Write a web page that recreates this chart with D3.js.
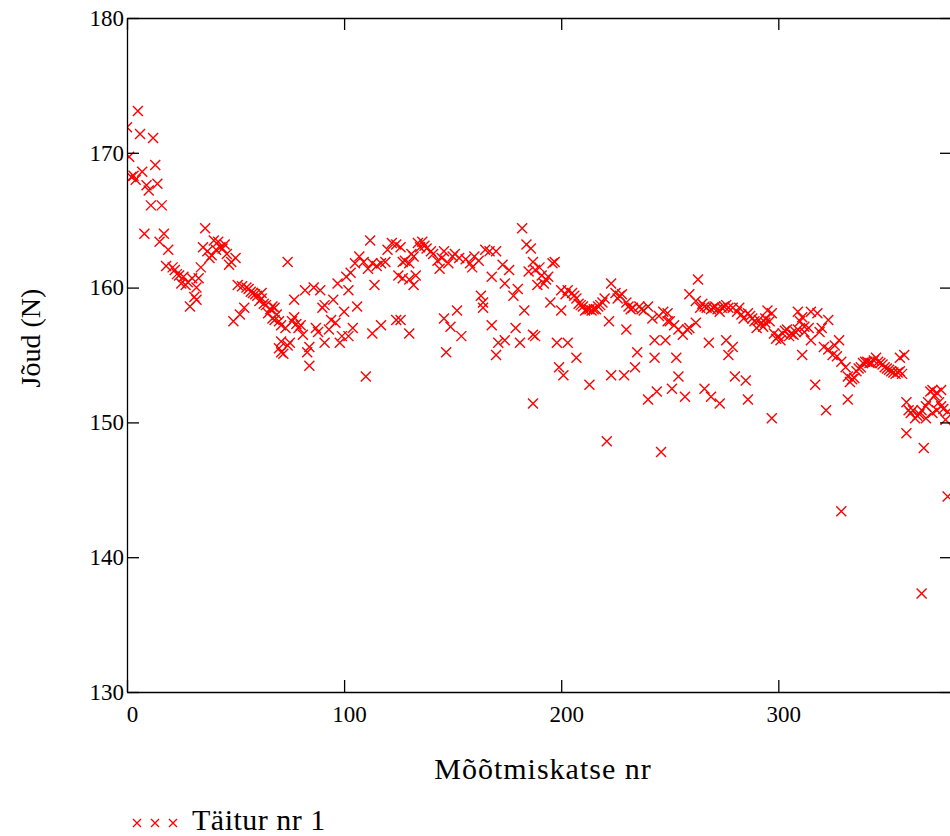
<!DOCTYPE html>
<html>
<head>
<meta charset="utf-8">
<script src="https://cdn.jsdelivr.net/npm/d3@7"></script>
<style>
  html, body { margin: 0; padding: 0; background: #fff; overflow: hidden; }
  svg { display: block; font-family: "Liberation Serif", "Times New Roman", serif; }
  .axis path, .axis line { stroke: #000; stroke-width: 1.3; }
  .axis text { font-size: 23px; fill: #000; font-family: "Liberation Serif", "Times New Roman", serif; }
</style>
</head>
<body>
<svg id="chart" width="950" height="836"></svg>
<script>
var nrA = [0,1,2,3,4,5,6,7,8,9,10,11,12,13,14,15,16,17,18,19,
  21,22,23,24,25,26,27,28,29,30,31,32,32,33,34,35,36,37,38,39,
  40,41,42,43,44,45,46,47,48,49,50,51,52,53,54,55,56,57,58,59,60,61,62];
var forceA = [171.9,169.7,168.2,168.3,168.0,173.1,171.4,168.6,164.0,167.6,167.2,166.1,171.1,169.1,167.7,163.4,166.1,164.0,161.6,162.8,
  161.5,161.3,161.0,160.9,160.3,160.8,160.2,160.4,158.6,160.7,159.3,160.0,159.1,160.7,161.5,163.0,164.4,162.7,162.2,162.4,
  163.5,162.8,163.4,163.0,162.9,163.2,162.5,161.7,161.9,157.5,162.2,160.2,158.0,160.1,158.5,160.0,159.9,159.7,159.6,159.5,159.4,159.0,159.2];

var nrB = [62,63,64,65,66,67,67,68,68,69,
  70,70,71,71,71,72,73,74,74,75,
  76,77,77,78,79,80,81,82,83,84,
  84,86,87,88,89,90,91,91,93,94,
  95,96,97,98,99,100,101,102,102,103,
  104,105,106,107,109,110,111,112,113,113,
  114,115,117,117,119,120,122,124,124,125];
var forceB = [159.6,158.8,158.7,158.1,158.4,158.6,157.7,158.5,157.6,158.0,
  157.5,155.5,157.2,156.0,155.2,155.1,157.0,161.9,155.7,155.9,
  157.5,157.8,159.1,157.3,157.0,157.2,156.5,159.8,155.2,155.6,
  154.2,160.0,157.0,156.7,159.8,158.5,158.7,155.9,156.9,157.6,
  159.1,157.4,160.3,155.9,156.4,158.2,160.8,159.8,156.4,161.1,
  157.0,161.8,158.6,162.3,161.9,153.4,161.4,163.5,161.8,156.6,
  160.2,161.6,161.8,157.2,161.9,162.8,163.3,163.2,157.6,160.9];

var nrC = [126,127,127,126,128,130,130,130,131,132,
  132,133,134,135,136,137,138,140,141,143,
  144,145,146,146,147,148,149,150,151,152,
  153,154,156,158,159,160,162,163,164,164,
  165,167,168,168,170,170,171,173,174,174,
  176,178,179,180,181,182,183,184,185,187];
var forceC = [163.0,161.9,160.7,157.6,162.0,161.8,160.6,156.6,162.5,162.3,
  160.2,160.9,163.3,163.0,163.4,163.1,162.9,162.7,162.5,162.0,
  161.4,162.2,162.7,157.7,155.2,161.8,157.1,162.3,162.5,158.3,
  162.2,156.4,162.1,161.8,161.5,162.3,162.0,159.4,158.9,158.5,
  162.8,162.7,160.8,157.2,162.7,155.0,155.9,161.7,160.3,156.1,
  161.3,159.4,157.0,159.9,155.9,164.4,158.3,163.2,161.2,156.5];

var nrD = [186,187,187,188,188,189,190,191,192,193,
  194,195,196,197,198,199,200,200,201,202,
  203,203,205,206,207,207,208,209,210,211,
  212,213,213,214,215,216,217,218,219,220,
  221,222,223,223,225,226,227,228,229,230,
  230,231,232,233,234,235,236,237,238,240,
  240,242,243,243,244,245,246,247,248,249];
var forceD = [162.9,161.9,151.4,161.3,156.4,160.2,161.5,160.9,160.3,160.6,
  160.8,158.9,161.8,161.9,155.9,154.1,158.3,159.8,153.5,159.5,
  159.8,155.9,159.6,159.4,159.2,154.8,158.8,158.7,158.6,158.3,
  158.4,158.4,152.8,158.3,158.4,158.4,158.6,158.7,158.9,159.2,
  148.6,157.5,160.3,153.5,159.6,159.2,159.4,159.5,153.5,158.9,
  156.9,158.6,158.4,158.5,154.1,155.2,158.6,158.4,158.3,158.6,
  151.7,157.7,156.1,154.8,152.3,157.9,147.8,158.2,156.1,157.5];

var nrE = [249,250,251,252,253,254,254,256,257,258,
  259,259,262,262,263,264,265,266,266,267,
  268,269,269,270,271,272,273,273,274,275,
  276,276,277,277,279,279,280,281,282,283,
  284,285,286,286,287,288,289,290,291,292,
  293,294,294,295,296,297,297,298,299,300,
  301,302,303,304,305,306,307,308,309,309,
  310,311,311,312];
var forceE = [158.1,157.5,152.5,157.2,154.8,156.9,153.4,156.5,151.9,156.9,
  157.0,159.5,157.4,159.0,160.6,158.5,158.8,158.6,152.5,158.5,
  155.9,158.4,151.9,158.5,158.6,158.4,158.2,151.4,158.5,158.6,
  158.7,156.1,158.5,155.0,158.5,155.6,153.4,158.2,158.5,158.0,
  157.7,153.1,158.1,151.7,157.9,157.7,157.5,157.0,157.6,157.3,
  157.1,157.7,157.4,158.3,157.5,158.1,150.3,156.6,156.2,156.4,
  156.1,156.6,156.8,156.9,156.4,156.6,156.5,156.7,156.9,158.2,
  157.5,157.8,155.0,157.1];

var nrF = [312,314,315,315,317,318,319,320,321,322,
  323,323,325,326,327,328,329,329,331,332,
  332,333,334,335,336,337,338,339,340,341,
  342,343,344,345,346,347,348,349,350,351,
  352,353,354,355,356,356,357,358,359,359,
  360,361,362,363,364,365,366,366,367,368,
  368,369,370,371,371,372,373,373,374,375,
  375,376,377,378,378];
var forceF = [156.7,157.0,158.2,156.1,152.8,158.1,156.7,157.0,155.6,150.9,
  157.6,155.4,155.0,155.7,154.9,156.1,154.5,143.4,154.1,153.4,
  151.7,153.0,153.2,153.3,153.8,154.0,154.1,154.4,154.5,154.5,
  154.4,154.4,154.6,154.8,154.5,154.4,154.3,154.1,154.0,153.9,
  153.8,153.7,153.6,153.7,153.8,154.8,153.6,155.0,151.5,149.2,
  150.9,150.7,150.9,150.3,150.5,150.6,150.9,137.3,148.1,151.2,
  150.3,151.5,152.3,152.4,150.7,152.0,152.2,150.9,151.5,152.4,
  151.2,151.0,150.2,150.8,144.5];

var xTicks = [0, 100, 200, 300];
var yTicks = [130, 140, 150, 160, 170, 180];
var seriesName = "Täitur nr 1";

var nr = nrA.concat(nrB, nrC, nrD, nrE, nrF);
var force = forceA.concat(forceB, forceC, forceD, forceE, forceF);
var data = nr.map(function(n, i) { return {nr: n, force: force[i]}; });

var svg = d3.select("#chart");
var margin = {top: 18, right: -2, bottom: 144, left: 127};
var width = +svg.attr("width") - margin.left - margin.right;
var height = +svg.attr("height") - margin.top - margin.bottom;

var x = d3.scaleLinear().domain([0, 380]).range([0, width]);
var y = d3.scaleLinear().domain([130, 180]).range([height, 0]);

var g = svg.append("g").attr("transform", "translate(" + margin.left + "," + margin.top + ")");

g.append("clipPath").attr("id", "plot-clip")
  .append("rect").attr("width", width).attr("height", height);

var cross = "M-5,-5L5,5M-5,5L5,-5";

g.append("g")
    .attr("clip-path", "url(#plot-clip)")
  .selectAll("path")
  .data(data)
  .enter().append("path")
    .attr("transform", function(d) { return "translate(" + x(d.nr) + "," + y(d.force) + ")"; })
    .attr("d", cross)
    .attr("fill", "none")
    .attr("stroke", "#ff0000")
    .attr("stroke-width", 1.4);

// box: ticks point inward on all four sides
g.append("g")
    .attr("class", "axis")
    .attr("transform", "translate(0," + height + ")")
    .call(d3.axisBottom(x).tickValues(xTicks).tickSize(-12).tickSizeOuter(0).tickPadding(14))
  .selectAll("text").attr("dx", 5);

g.append("g")
    .attr("class", "axis")
    .call(d3.axisTop(x).tickValues(xTicks).tickSize(-12).tickSizeOuter(0).tickFormat(""));

g.append("g")
    .attr("class", "axis")
    .call(d3.axisLeft(y).tickValues(yTicks).tickSize(-12).tickSizeOuter(0).tickPadding(3));

g.append("g")
    .attr("class", "axis")
    .attr("transform", "translate(" + width + ",0)")
    .call(d3.axisRight(y).tickValues(yTicks).tickSize(-12).tickSizeOuter(0).tickFormat(""));

svg.append("text")
    .attr("transform", "translate(40,338) rotate(-90)")
    .attr("text-anchor", "middle")
    .style("font-size", "28px")
    .text("Jõud (N)");

svg.append("text")
    .attr("x", 543)
    .attr("y", 779)
    .attr("text-anchor", "middle")
    .style("font-size", "30px")
    .style("letter-spacing", "1px")
    .text("Mõõtmiskatse nr");

// legend
var legend = svg.append("g").attr("transform", "translate(0,823)");
legend.selectAll("path")
  .data([137, 155, 173])
  .enter().append("path")
    .attr("transform", function(d) { return "translate(" + d + ",0)"; })
    .attr("d", "M-4,-4L4,4M-4,4L4,-4")
    .attr("stroke", "#ff0000")
    .attr("stroke-width", 1.3);
legend.append("text")
    .attr("x", 192)
    .attr("y", 7)
    .style("font-size", "30px")
    .style("letter-spacing", "0.5px")
    .text(seriesName);
</script>
</body>
</html>
